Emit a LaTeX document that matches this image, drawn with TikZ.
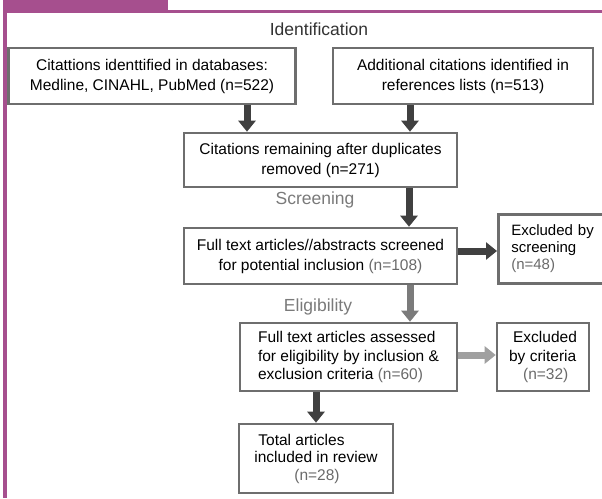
\documentclass[tikz,border=0pt]{standalone}
\usepackage{fontspec}
\setmainfont{Liberation Sans}
\usetikzlibrary{arrows.meta,shadows}
\definecolor{purp}{HTML}{A64F8E}
\definecolor{boxgray}{HTML}{6E6E6E}
\definecolor{darkarr}{HTML}{404040}
\definecolor{midarr}{HTML}{7B7B7B}
\definecolor{lightarr}{HTML}{A0A0A0}
\definecolor{ngray}{HTML}{6A6A6A}
\definecolor{titlegray}{HTML}{7A7A7A}
\begin{document}
\begin{tikzpicture}[x=1pt,y=-1pt,
  box/.style={draw=boxgray, line width=2.6pt, fill=white, inner sep=0pt,
    font=\fontsize{15.5}{20}\selectfont, align=center,
    drop shadow={shadow xshift=1.2pt, shadow yshift=-1.2pt, fill=black, opacity=0.25}},
  tight/.style={font=\fontsize{15.5}{18.5}\selectfont},
  arr/.style={line width=7pt, -{Triangle[width=17pt,length=11pt]}},
  ttl/.style={font=\fontsize{17.5}{20}\selectfont, inner sep=0pt}]
\useasboundingbox (0,0) rectangle (602,498);
\fill[white] (0,0) rectangle (602,498);
% purple frame
\fill[purp] (3,0) rectangle (168,11);
\fill[purp] (3,10) rectangle (602,12.5);
\fill[purp] (3,0) rectangle (6.8,498);
% titles
\node[ttl, text=black!80] (tid) at (319,29) {Identification};
\node[ttl, text=titlegray] (tscr) at (315,200) {Screening};
\node[ttl, text=titlegray] (tel) at (318,307) {Eligibility};
% boxes
\node[box, minimum width=287, minimum height=56] (b1) at (152,76)
  {Citattions identtified in databases:\\Medline, CINAHL, PubMed (n=522)};
\node[box, minimum width=260, minimum height=56] (b2) at (463,76)
  {Additional citations identified in\\references lists (n=513)};
\node[box, minimum width=273, minimum height=54] (b3) at (320.5,160)
  {Citations remaining after duplicates\\removed (n=271)};
\node[box, minimum width=273, minimum height=56] (b4) at (320.5,256)
  {Full text articles//abstracts screened\\for potential inclusion \textcolor{ngray}{(n=108)}};
\node[box, font=\fontsize{15}{17}\selectfont, anchor=west, align=left, text width=98, inner xsep=13, minimum height=69] (b5) at (497,249)
  {Excluded by\\screening\\\textcolor{ngray}{(n=48)}};
\node[box, tight, align=left, minimum width=217, minimum height=68] (b6) at (348.5,357)
  {Full text articles assessed\\for eligibility by inclusion \&\\exclusion criteria \textcolor{ngray}{(n=60)}};
\node[box, tight, align=left, minimum width=92, minimum height=68] (b7) at (543,357)
  {\hspace*{4pt}Excluded\\by criteria\\\hspace*{14pt}\textcolor{ngray}{(n=32)}};
\node[box, font=\fontsize{15.5}{17.5}\selectfont, align=left, minimum width=154, minimum height=69] (b8) at (316,458.5)
  {\hspace*{4pt}Total articles\\included in review\\\hspace*{40pt}\textcolor{ngray}{(n=28)}};
% arrows
\draw[arr, darkarr] (b1.south -| 247,0) -- (b3.north -| 247,0);
\draw[arr, darkarr] (b2.south -| 410,0) -- (b3.north -| 410,0);
\draw[arr, darkarr] (b3.south -| 409,0) -- (b4.north -| 409,0);
\draw[arr, darkarr] (b4.east |- 0,251) -- (b5.west |- 0,251);
\draw[arr, midarr] (b4.south -| 410,0) -- (b6.north -| 410,0);
\draw[arr, lightarr] (b6.east |- 0,355) -- (b7.west |- 0,355);
\draw[arr, darkarr] (b6.south -| 316,0) -- (b8.north -| 316,0);
\end{tikzpicture}
\end{document}
